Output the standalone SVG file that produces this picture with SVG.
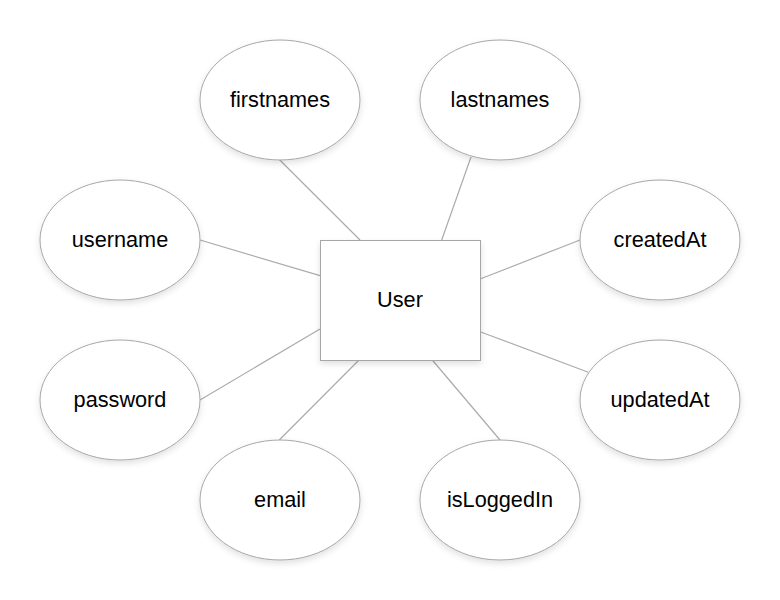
<svg xmlns="http://www.w3.org/2000/svg" width="780" height="600" viewBox="0 0 780 600">
<defs>
<filter id="sh" x="-20%" y="-20%" width="140%" height="150%">
<feDropShadow dx="0" dy="3" stdDeviation="3" flood-color="#000" flood-opacity="0.12"/>
</filter>
<style>
.n{fill:#fff;stroke:#a6a6a6;stroke-width:1;filter:url(#sh)}
.t{font-family:"Liberation Sans",Arial,sans-serif;font-size:21.7px;fill:#000;text-anchor:middle}
.c line{stroke:#ababab;stroke-width:1.2}
</style>
</defs>
<rect width="780" height="600" fill="#fff"/>
<g class="c" id="connectors">
<line x1="279.3" y1="159.5" x2="360" y2="240"/>
<line x1="471" y1="157" x2="441.7" y2="240"/>
<line x1="200" y1="240" x2="320" y2="275.7"/>
<line x1="580" y1="240" x2="480" y2="279"/>
<line x1="200" y1="400" x2="320" y2="329"/>
<line x1="588.3" y1="372.3" x2="480" y2="331.7"/>
<line x1="279.3" y1="440" x2="359" y2="360"/>
<line x1="500" y1="440" x2="432.3" y2="360"/>
</g>
<g id="user"><rect class="n" x="320.5" y="240.5" width="160" height="120"/><text class="t" x="400" y="306.5">User</text></g>
<g id="firstnames"><ellipse class="n" cx="280" cy="100" rx="80" ry="60"/><text class="t" x="280" y="106.5">firstnames</text></g>
<g id="lastnames"><ellipse class="n" cx="500" cy="100" rx="80" ry="60"/><text class="t" x="500" y="106.5">lastnames</text></g>
<g id="username"><ellipse class="n" cx="120" cy="240" rx="80" ry="60"/><text class="t" x="120" y="246.5">username</text></g>
<g id="createdAt"><ellipse class="n" cx="660" cy="240" rx="80" ry="60"/><text class="t" x="660" y="246.5">createdAt</text></g>
<g id="password"><ellipse class="n" cx="120" cy="400" rx="80" ry="60"/><text class="t" x="120" y="406.5">password</text></g>
<g id="updatedAt"><ellipse class="n" cx="660" cy="400" rx="80" ry="60"/><text class="t" x="660" y="406.5">updatedAt</text></g>
<g id="email"><ellipse class="n" cx="280" cy="500" rx="80" ry="60"/><text class="t" x="280" y="506.5">email</text></g>
<g id="isLoggedIn"><ellipse class="n" cx="500" cy="500" rx="80" ry="60"/><text class="t" x="500" y="506.5">isLoggedIn</text></g>
</svg>
